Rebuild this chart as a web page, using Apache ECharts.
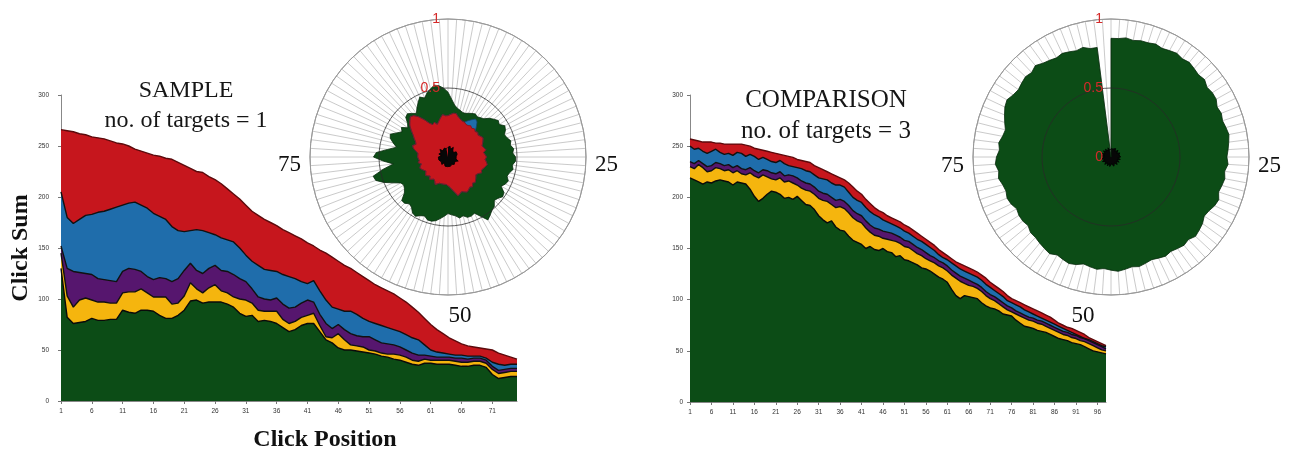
<!DOCTYPE html>
<html>
<head>
<meta charset="utf-8">
<script src="https://cdn.jsdelivr.net/npm/echarts@6/dist/echarts.min.js"></script>
<style>
  html, body { margin: 0; padding: 0; background: #fff; }
  #chart { width: 1297px; height: 450px; }
</style>
</head>
<body>
<div id="chart"></div>
<script>
// Click sums per click position. Each array is the top of a layer, stacked
// green (bottom) < yellow < purple < blue < red (total).
const sampleGreen = [
  130, 82, 76, 77, 78, 81, 79, 79, 80, 80,
  89, 87, 86, 89, 89, 88, 84, 81, 81, 84,
  89, 98, 99, 96, 97, 97, 97, 95, 92, 86,
  83, 84, 78, 79, 78, 76, 72, 68, 70, 74,
  76, 76, 68, 60, 57, 52, 50, 50, 49, 48,
  47, 46, 44, 43, 41, 40, 38, 36, 35, 37,
  37, 36, 36, 36, 35, 34, 34, 35, 35, 33,
  26, 22, 23, 24, 24
];
const sampleYellow = [
  145, 103, 92, 99, 101, 99, 97, 97, 96, 96,
  106, 107, 107, 110, 106, 102, 102, 102, 95, 96,
  103, 116, 110, 106, 111, 114, 108, 106, 102, 100,
  99, 96, 89, 88, 88, 88, 80, 76, 78, 82,
  84, 86, 74, 63, 62, 66, 60, 55, 54, 53,
  50, 49, 47, 46, 46, 45, 43, 40, 39, 41,
  40, 40, 40, 40, 39, 38, 38, 39, 39, 37,
  31, 27, 28, 29, 29
];
const samplePurple = [
  152, 130, 127, 126, 125, 124, 120, 119, 118, 117,
  127, 130, 129, 127, 122, 119, 121, 120, 117, 120,
  128, 135, 128, 125, 130, 133, 128, 127, 124, 120,
  117, 110, 102, 100, 99, 101, 95, 91, 92, 96,
  99, 97, 85, 76, 71, 75, 70, 66, 64, 63,
  63, 60, 57, 56, 55, 53, 50, 47, 45, 45,
  44, 43, 43, 43, 42, 42, 41, 42, 42, 40,
  34, 30, 31, 32, 32
];
const sampleBlue = [
  205, 180, 174, 178, 182, 183, 185, 186, 188, 190,
  192, 194, 195, 192, 189, 184, 181, 178, 171, 167,
  166, 167, 168, 167, 165, 163, 160, 158, 156, 150,
  143, 137, 133, 129, 128, 127, 124, 122, 120, 117,
  115, 118, 108, 99, 92, 90, 88, 88, 85, 81,
  78, 76, 74, 72, 70, 68, 65, 62, 60, 55,
  50, 48, 47, 46, 45, 45, 44, 44, 44, 42,
  38, 36, 35, 36, 36
];
const sampleRed = [
  266, 265, 264, 262, 261, 259, 258, 257, 255, 253,
  252, 250, 247, 245, 243, 241, 240, 238, 237, 234,
  231, 228, 225, 224, 220, 217, 213, 208, 203, 198,
  192, 186, 182, 178, 175, 172, 168, 165, 162, 159,
  155, 152, 148, 145, 141, 137, 133, 130, 126, 122,
  118, 114, 111, 108, 105, 101, 97, 92, 87, 81,
  75, 70, 66, 62, 59, 56, 54, 53, 52, 51,
  50, 47, 45, 43, 41
];

const compGreen = [
  219, 217, 215, 213, 215, 214, 216, 217, 216, 215,
  212, 215, 214, 213, 208, 201, 196, 199, 203, 206,
  205, 203, 199, 200, 198, 201, 197, 193, 192, 188,
  182, 178, 175, 177, 171, 168, 167, 162, 158, 156,
  154, 150, 152, 149, 148, 150, 147, 146, 142, 143,
  139, 138, 136, 134, 131, 130, 128, 125, 122, 120,
  117, 110, 104, 101, 104, 103, 102, 101, 97, 94,
  92, 91, 89, 86, 85, 84, 80, 77, 74, 73,
  72, 70, 69, 68, 66, 64, 62, 61, 60, 58,
  57, 56, 54, 52, 50, 49, 48, 47
];
const compYellow = [
  230, 228, 232, 229, 225, 226, 229, 228, 226, 227,
  224, 226, 223, 222, 224, 221, 219, 222, 220, 218,
  217, 219, 215, 216, 214, 212, 209, 207, 206, 203,
  199, 197, 196, 193, 190, 191, 189, 185, 180, 177,
  175, 170, 166, 163, 162, 160, 159, 158, 157, 155,
  152, 151, 148, 145, 143, 140, 138, 136, 133, 131,
  128, 124, 121, 118, 116, 114, 113, 111, 108, 104,
  101, 99, 96, 93, 90, 88, 86, 84, 82, 80,
  79, 77, 76, 74, 72, 70, 68, 66, 65, 63,
  62, 60, 59, 57, 55, 53, 51, 50
];
const compPurple = [
  235, 233, 236, 233, 230, 231, 234, 233, 231, 232,
  229, 231, 228, 227, 229, 226, 224, 227, 226, 224,
  223, 225, 221, 222, 221, 219, 216, 214, 213, 210,
  206, 204, 203, 200, 197, 198, 196, 192, 187, 184,
  182, 177, 173, 170, 169, 167, 166, 165, 163, 161,
  158, 157, 154, 151, 149, 146, 143, 141, 138, 136,
  133, 129, 126, 123, 121, 119, 117, 115, 112, 108,
  105, 103, 100, 97, 94, 92, 89, 87, 85, 83,
  82, 80, 79, 77, 75, 73, 71, 69, 68, 66,
  65, 63, 62, 60, 58, 56, 54, 52
];
const compBlue = [
  250, 247, 248, 245, 243, 245, 247, 244, 242, 243,
  241, 244, 243, 240, 242, 240, 237, 239, 237, 235,
  234, 236, 233, 231, 230, 229, 228, 226, 225, 222,
  219, 218, 217, 214, 212, 212, 210, 205, 200, 197,
  195, 190, 186, 183, 181, 178, 176, 174, 172, 170,
  167, 165, 162, 159, 157, 154, 151, 148, 144, 141,
  139, 136, 133, 130, 128, 126, 124, 122, 119, 115,
  112, 109, 106, 103, 99, 97, 95, 93, 90, 88,
  86, 84, 82, 80, 78, 76, 74, 72, 70, 68,
  66, 64, 62, 61, 59, 57, 55, 54
];
const compRed = [
  257, 256, 255, 254, 254, 254, 253, 253, 252, 252,
  252, 252, 252, 251, 250, 248, 247, 246, 245, 244,
  243, 242, 241, 240, 239, 237, 236, 235, 234, 231,
  229, 227, 225, 223, 221, 219, 217, 214, 210, 206,
  203, 198, 194, 190, 187, 185, 182, 180, 178, 176,
  173, 171, 168, 165, 162, 159, 156, 153, 149, 146,
  143, 140, 137, 135, 133, 131, 129, 127, 124, 121,
  117, 114, 111, 108, 104, 101, 99, 97, 95, 93,
  91, 89, 87, 85, 83, 80, 77, 75, 73, 72,
  70, 68, 66, 63, 61, 59, 57, 55
];

// Radial profiles: 100 directions clockwise from the top, cumulative radius (0..1).
const sampleRadialGreen = [
  0.47, 0.42, 0.38, 0.36, 0.35, 0.34, 0.34, 0.35, 0.36, 0.37,
  0.36, 0.37, 0.38, 0.41, 0.43, 0.45, 0.44, 0.47, 0.46, 0.44,
  0.45, 0.47, 0.46, 0.48, 0.47, 0.49, 0.49, 0.47, 0.48, 0.46,
  0.45, 0.47, 0.46, 0.44, 0.48, 0.49, 0.47, 0.46, 0.49, 0.50,
  0.52, 0.54, 0.49, 0.45, 0.46, 0.46, 0.44, 0.45, 0.43, 0.42,
  0.41, 0.43, 0.45, 0.47, 0.48, 0.48, 0.46, 0.47, 0.49, 0.48,
  0.45, 0.44, 0.46, 0.46, 0.41, 0.39, 0.38, 0.39, 0.44, 0.50,
  0.55, 0.56, 0.48, 0.40, 0.47, 0.54, 0.52, 0.44, 0.38, 0.41,
  0.44, 0.45, 0.41, 0.38, 0.40, 0.36, 0.38, 0.42, 0.43, 0.41,
  0.39, 0.42, 0.45, 0.48, 0.46, 0.49, 0.51, 0.53, 0.52, 0.50
];
const sampleRadialBlue = [
  0.30, 0.31, 0.32, 0.32, 0.30, 0.29, 0.28, 0.28, 0.30, 0.32,
  0.34, 0.33, 0.30, 0.27, 0.28, 0.27, 0.28, 0.29, 0.28, 0.27,
  0.26, 0.27, 0.28, 0.26, 0.27, 0.28, 0.27, 0.28, 0.29, 0.28,
  0.27, 0.26, 0.27, 0.25, 0.24, 0.25, 0.26, 0.27, 0.26, 0.28,
  0.27, 0.28, 0.29, 0.28, 0.27, 0.28, 0.29, 0.26, 0.24, 0.22,
  0.21, 0.20, 0.21, 0.20, 0.19, 0.20, 0.21, 0.22, 0.20, 0.19,
  0.20, 0.21, 0.19, 0.20, 0.21, 0.20, 0.19, 0.20, 0.21, 0.22,
  0.21, 0.20, 0.22, 0.21, 0.22, 0.22, 0.23, 0.22, 0.24, 0.26,
  0.27, 0.25, 0.26, 0.28, 0.30, 0.33, 0.36, 0.38, 0.40, 0.39,
  0.36, 0.32, 0.28, 0.26, 0.27, 0.25, 0.26, 0.29, 0.31, 0.30
];
const sampleRadialRed = [
  0.30, 0.31, 0.32, 0.32, 0.30, 0.29, 0.28, 0.28, 0.27, 0.27,
  0.28, 0.27, 0.28, 0.27, 0.28, 0.27, 0.28, 0.29, 0.28, 0.27,
  0.26, 0.27, 0.28, 0.26, 0.27, 0.28, 0.27, 0.28, 0.29, 0.28,
  0.27, 0.26, 0.27, 0.25, 0.24, 0.25, 0.26, 0.27, 0.26, 0.28,
  0.27, 0.28, 0.29, 0.28, 0.27, 0.28, 0.29, 0.26, 0.24, 0.22,
  0.21, 0.20, 0.21, 0.20, 0.19, 0.20, 0.21, 0.22, 0.20, 0.19,
  0.20, 0.21, 0.19, 0.20, 0.21, 0.20, 0.19, 0.20, 0.21, 0.22,
  0.21, 0.20, 0.22, 0.21, 0.22, 0.22, 0.23, 0.22, 0.24, 0.26,
  0.27, 0.25, 0.26, 0.28, 0.30, 0.33, 0.36, 0.38, 0.40, 0.39,
  0.36, 0.32, 0.28, 0.26, 0.27, 0.25, 0.26, 0.29, 0.31, 0.30
];
const sampleRadialCore = [
  0.07, 0.06, 0.07, 0.08, 0.07, 0.06, 0.06, 0.07, 0.08, 0.07,
  0.06, 0.07, 0.07, 0.06, 0.05, 0.06, 0.07, 0.07, 0.06, 0.06,
  0.07, 0.08, 0.07, 0.07, 0.06, 0.06, 0.07, 0.06, 0.05, 0.06,
  0.07, 0.08, 0.08, 0.07, 0.06, 0.06, 0.07, 0.07, 0.06, 0.07,
  0.08, 0.07, 0.06, 0.06, 0.05, 0.06, 0.07, 0.08, 0.07, 0.06,
  0.06, 0.07, 0.07, 0.06, 0.06, 0.07, 0.08, 0.07, 0.06, 0.05,
  0.06, 0.07, 0.07, 0.08, 0.07, 0.06, 0.06, 0.07, 0.06, 0.06,
  0.07, 0.08, 0.07, 0.06, 0.06, 0.07, 0.07, 0.06, 0.05, 0.06,
  0.07, 0.08, 0.07, 0.07, 0.06, 0.06, 0.07, 0.08, 0.07, 0.06,
  0.06, 0.07, 0.07, 0.06, 0.07, 0.08, 0.07, 0.06, 0.06, 0.07
];
const compRadialGreen = [
  0.86, 0.86, 0.87, 0.86, 0.87, 0.87, 0.88, 0.87, 0.88, 0.89,
  0.88, 0.89, 0.88, 0.87, 0.88, 0.86, 0.87, 0.87, 0.85, 0.86,
  0.85, 0.86, 0.87, 0.86, 0.85, 0.84, 0.85, 0.83, 0.84, 0.83,
  0.82, 0.84, 0.83, 0.81, 0.80, 0.82, 0.83, 0.84, 0.82, 0.83,
  0.82, 0.81, 0.82, 0.81, 0.80, 0.81, 0.82, 0.81, 0.82, 0.83,
  0.82, 0.81, 0.82, 0.81, 0.80, 0.82, 0.83, 0.82, 0.81, 0.83,
  0.82, 0.81, 0.80, 0.80, 0.78, 0.79, 0.79, 0.78, 0.80, 0.81,
  0.80, 0.81, 0.83, 0.82, 0.84, 0.83, 0.81, 0.82, 0.80, 0.79,
  0.81, 0.83, 0.85, 0.86, 0.84, 0.83, 0.84, 0.85, 0.84, 0.86,
  0.84, 0.83, 0.82, 0.83, 0.82, 0.81, 0.82, 0.80, 0.80, 0.00
];
const compRadialCore = [
  0.06, 0.05, 0.06, 0.07, 0.06, 0.05, 0.06, 0.06, 0.07, 0.06,
  0.05, 0.05, 0.06, 0.07, 0.06, 0.06, 0.05, 0.06, 0.07, 0.08,
  0.07, 0.06, 0.05, 0.06, 0.06, 0.07, 0.06, 0.05, 0.06, 0.07,
  0.06, 0.06, 0.05, 0.06, 0.07, 0.06, 0.05, 0.05, 0.06, 0.07,
  0.07, 0.06, 0.05, 0.06, 0.06, 0.07, 0.08, 0.07, 0.06, 0.05,
  0.06, 0.06, 0.07, 0.06, 0.05, 0.06, 0.07, 0.06, 0.06, 0.05,
  0.06, 0.07, 0.07, 0.06, 0.05, 0.06, 0.06, 0.07, 0.06, 0.05,
  0.05, 0.06, 0.07, 0.06, 0.06, 0.05, 0.06, 0.07, 0.06, 0.05,
  0.06, 0.07, 0.06, 0.05, 0.06, 0.06, 0.07, 0.06, 0.05, 0.06,
  0.07, 0.06, 0.06, 0.05, 0.06, 0.07, 0.06, 0.05, 0.06, 0.05
];

// Category labels (click positions)
const samplePositions = sampleRed.map((_, i) => String(i + 1));
const compPositions = compRed.map((_, i) => String(i + 1));
const DIRECTIONS = 100;

const COLORS = {
  green: '#0c4c16',
  yellow: '#f5b50e',
  purple: '#56166e',
  blue: '#1f6dab',
  red: '#c6161d',
  core: '#070707'
};
const SERIF = '"Liberation Serif", "DejaVu Serif", serif';
const SANS = '"Liberation Sans", Arial, sans-serif';

// Cumulative layers are drawn back to front: red (total) first, green last.
function layerSeries(axisIdx, layers) {
  return layers.map(([name, data, color, edge]) => ({
    name, type: 'line', xAxisIndex: axisIdx, yAxisIndex: axisIdx,
    data, symbol: 'none', smooth: false,
    lineStyle: { color: edge, width: 1.4 },
    areaStyle: { color, opacity: 1 }
  }));
}

// Closed radial outline in polar coordinates: [radius, direction]
function ring(vals) {
  const pts = vals.map((r, i) => [r, i]);
  pts.push([vals[0], vals.length]);
  return pts;
}
function radialSeries(polarIdx, layers) {
  return layers.map(([name, vals, color, edge]) => ({
    name, type: 'line', coordinateSystem: 'polar', polarIndex: polarIdx,
    data: ring(vals), symbol: 'none', smooth: false,
    lineStyle: { color: edge, width: 0.8 },
    areaStyle: { color, opacity: 1 }
  }));
}

function dirAxis(polarIdx, rich) {
  return {
    type: 'value', polarIndex: polarIdx, min: 0, max: DIRECTIONS, interval: 1,
    startAngle: 90, clockwise: true,
    axisLine: { lineStyle: { color: '#9a9a9a', width: 1 } },
    axisTick: { show: false },
    splitLine: { show: true, lineStyle: { color: '#bdbdbd', width: 0.8 } },
    axisLabel: {
      margin: 9, fontFamily: SERIF, fontSize: 23, color: '#111',
      formatter: v => (v === 25 || v === 50 || v === 75) ? '{d' + v + '|' + v + '}' : '',
      rich
    }
  };
}
function richDir(p25, p50, p75) {
  const base = { fontFamily: SERIF, fontSize: 23, color: '#111' };
  return {
    d25: Object.assign({ padding: p25 }, base),
    d50: Object.assign({ padding: p50 }, base),
    d75: Object.assign({ padding: p75 }, base)
  };
}
function radiusAxis(polarIdx, showZero) {
  return {
    type: 'value', polarIndex: polarIdx, min: 0, max: 1, interval: 0.5, z: 5,
    axisLine: { show: false },
    axisTick: { show: false },
    axisLabel: {
      showMinLabel: showZero, margin: 8, color: '#d42a2a',
      fontFamily: SANS, fontSize: 14
    },
    splitLine: { show: true, lineStyle: { color: ['#555', 'rgba(40,40,40,0.75)', '#9a9a9a'], width: 1 } }
  };
}

function catAxis(gridIdx, data, withName) {
  const ax = {
    type: 'category', gridIndex: gridIdx, data, boundaryGap: false,
    axisLine: { lineStyle: { color: '#888', width: 1 } },
    axisTick: { show: true, interval: 4, length: 3, lineStyle: { color: '#777' } },
    axisLabel: { interval: 4, fontFamily: SANS, fontSize: 6.5, color: '#333', margin: 7 },
    splitLine: { show: false }
  };
  if (withName) {
    Object.assign(ax, {
      name: 'Click Position', nameLocation: 'middle', nameGap: 27,
      nameTextStyle: { fontFamily: SERIF, fontWeight: 'bold', fontSize: 24, color: '#111', padding: [0, 0, 0, 72] }
    });
  }
  return ax;
}
function sumAxis(gridIdx, margin, withName) {
  const ax = {
    type: 'value', gridIndex: gridIdx, min: 0, max: 300, interval: 50,
    axisLine: { show: true, lineStyle: { color: '#888', width: 1 } },
    axisTick: { show: true, length: 3, lineStyle: { color: '#777' } },
    axisLabel: { fontFamily: SANS, fontSize: 6.5, color: '#333', margin },
    splitLine: { show: false }
  };
  if (withName) {
    Object.assign(ax, {
      name: 'Click Sum', nameLocation: 'middle', nameRotate: 90, nameGap: 28,
      nameTextStyle: { fontFamily: SERIF, fontWeight: 'bold', fontSize: 24, color: '#111' }
    });
  }
  return ax;
}

const titleStyle = { fontFamily: SERIF, fontSize: 24, fontWeight: 'normal', color: '#161616' };

const option = {
  animation: false,
  backgroundColor: '#fff',
  title: [
    { text: 'SAMPLE', subtext: 'no. of targets = 1', left: 181, top: 74, textAlign: 'center',
      itemGap: 6, textStyle: titleStyle, subtextStyle: titleStyle },
    { text: 'COMPARISON', subtext: 'no. of targets = 3', left: 821, top: 83, textAlign: 'center',
      itemGap: 6, textStyle: Object.assign({}, titleStyle, { fontSize: 25 }),
      subtextStyle: Object.assign({}, titleStyle, { fontSize: 25 }) }
  ],
  grid: [
    { left: 61, right: 780, top: 95, bottom: 49, containLabel: false, outerBoundsMode: 'none' },
    { left: 690, right: 191, top: 95, bottom: 48, containLabel: false, outerBoundsMode: 'none' }
  ],
  xAxis: [catAxis(0, samplePositions, true), catAxis(1, compPositions, false)],
  yAxis: [sumAxis(0, 12, true), sumAxis(1, 7, false)],
  polar: [
    { center: [448, 157], radius: 138 },
    { center: [1111, 157], radius: 138 }
  ],
  angleAxis: [
    dirAxis(0, richDir([16, 0, 0, 0], [0, 0, 0, 24], [16, 0, 0, 0])),
    dirAxis(1, richDir([18, 0, 0, 0], [0, 56, 0, 0], [18, 0, 0, 0]))
  ],
  radiusAxis: [radiusAxis(0, false), radiusAxis(1, true)],
  series: [
    ...layerSeries(0, [
      ['Red', sampleRed, COLORS.red, '#5c0a0c'],
      ['Blue', sampleBlue, COLORS.blue, '#111'],
      ['Purple', samplePurple, COLORS.purple, '#111'],
      ['Yellow', sampleYellow, COLORS.yellow, '#111'],
      ['Green', sampleGreen, COLORS.green, '#0a0a0a']
    ]),
    ...layerSeries(1, [
      ['Red', compRed, COLORS.red, '#5c0a0c'],
      ['Blue', compBlue, COLORS.blue, '#111'],
      ['Purple', compPurple, COLORS.purple, '#111'],
      ['Yellow', compYellow, COLORS.yellow, '#111'],
      ['Green', compGreen, COLORS.green, '#0a0a0a']
    ]),
    ...radialSeries(0, [
      ['Green', sampleRadialGreen, COLORS.green, '#062a0b'],
      ['Blue', sampleRadialBlue, COLORS.blue, '#14456e'],
      ['Red', sampleRadialRed, COLORS.red, '#8a1015'],
      ['Core', sampleRadialCore, COLORS.core, '#000']
    ]),
    ...radialSeries(1, [
      ['Green', compRadialGreen, COLORS.green, '#062a0b'],
      ['Core', compRadialCore, COLORS.core, '#000']
    ])
  ]
};

const chart = echarts.init(document.getElementById('chart'), null, { renderer: 'canvas' });
chart.setOption(option);
</script>
</body>
</html>
